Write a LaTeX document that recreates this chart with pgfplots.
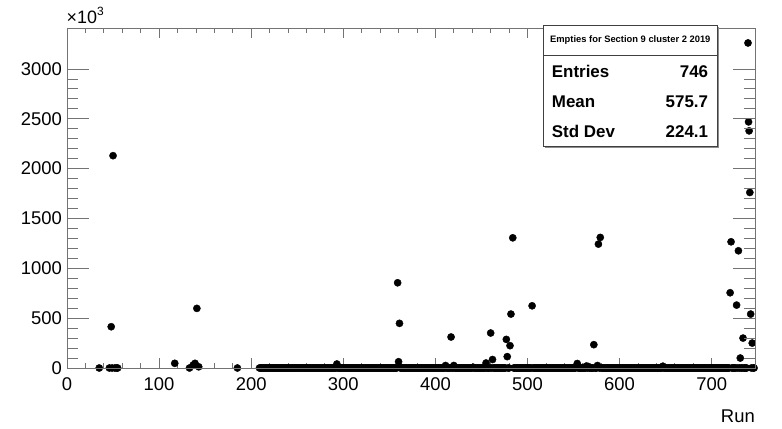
\documentclass[border=0pt]{standalone}
\usepackage{fontspec}
\setmainfont{Liberation Sans}
\usepackage{pgfplots}
\pgfplotsset{compat=1.18}
\definecolor{framegray}{gray}{0.45}
\begin{document}
\begin{tikzpicture}
\useasboundingbox (-67bp,-61bp) rectangle (715bp,368bp);
% x ticks, data
\begin{axis}[
  scale only axis, width=688bp, height=340bp,
  at={(0,0)}, anchor=south west,
  xmin=0, xmax=747, ymin=0, ymax=3411,
  clip=false,
  axis line style={framegray, line width=0.8bp},
  tick style={framegray, line width=0.8bp},
  xtick={0,100,...,700}, minor x tick num=4,
  ytick=\empty,
  major tick length=10bp, minor tick length=5bp,
  tick align=inside,
  xticklabel pos=bottom,
  /pgf/number format/assume math mode=true,
  /pgf/number format/1000 sep={},
  scaled ticks=false,
  xticklabel style={font=\fontsize{18.5}{20}\selectfont, inner sep=0pt, yshift=-9bp},
]
% dense band of runs with (near) zero values
\addplot[only marks, mark=*, mark size=3.6bp, black] coordinates {
(209,0)(210,0)(211,0)(212,0)(213,0)(214,0)(215,0)(216,0)(217,0)(218,0)
(219,0)(220,0)(221,0)(222,0)(223,0)(224,0)(225,0)(226,0)(227,0)(228,0)
(229,0)(230,0)(231,0)(232,0)(233,0)(234,0)(235,0)(236,0)(237,0)(238,0)
(239,0)(240,0)(241,0)(242,0)(243,0)(244,0)(245,0)(246,0)(247,0)(248,0)
(249,0)(250,0)(251,0)(252,0)(253,0)(254,0)(255,0)(256,0)(257,0)(258,0)
(259,0)(260,0)(261,0)(262,0)(263,0)(264,0)(265,0)(266,0)(267,0)(268,0)
(269,0)(270,0)(271,0)(272,0)(273,0)(274,0)(275,0)(276,0)(277,0)(278,0)
(279,0)(280,0)(281,0)(282,0)(283,0)(284,0)(285,0)(286,0)(287,0)(288,0)
(289,0)(290,0)(291,0)(292,0)(294,0)(295,0)(296,0)(297,0)(298,0)
(299,0)(300,0)(301,0)(302,0)(303,0)(304,0)(305,0)(306,0)(307,0)(308,0)
(309,0)(310,0)(311,0)(312,0)(313,0)(314,0)(315,0)(316,0)(317,0)(318,0)
(319,0)(320,0)(321,0)(322,0)(323,0)(324,0)(325,0)(326,0)(327,0)(328,0)
(329,0)(330,0)(331,0)(332,0)(333,0)(334,0)(335,0)(336,0)(337,0)(338,0)
(339,0)(340,0)(341,0)(342,0)(343,0)(344,0)(345,0)(346,0)(347,0)(348,0)
(349,0)(350,0)(351,0)(352,0)(353,0)(354,0)(355,0)(356,0)(357,0)(358,0)
(362,0)(363,0)(364,0)(365,0)(366,0)(367,0)(368,0)
(369,0)(370,0)(371,0)(372,0)(373,0)(374,0)(375,0)(376,0)(377,0)(378,0)
(379,0)(380,0)(381,0)(382,0)(383,0)(384,0)(385,0)(386,0)(387,0)(388,0)
(389,0)(390,0)(391,0)(392,0)(393,0)(394,0)(395,0)(396,0)(397,0)(398,0)
(399,0)(400,0)(401,0)(402,0)(403,0)(404,0)(405,0)(406,0)(407,0)(408,0)
(409,0)(410,0)(412,0)(413,0)(414,0)(415,0)(416,0)(418,0)
(419,0)(421,0)(422,0)(423,0)(424,0)(425,0)(426,0)(427,0)(428,0)
(429,0)(430,0)(431,0)(432,0)(433,0)(434,0)(435,0)(436,0)(437,0)(438,0)
(439,0)(440,0)(442,0)(443,0)(444,0)(445,0)(446,0)(447,0)(448,0)
(449,0)(450,0)(451,0)(452,0)(453,0)(454,0)(456,0)(457,0)(458,0)
(459,0)(461,0)(463,0)(464,0)(465,0)(466,0)(467,0)(468,0)
(469,0)(470,0)(471,0)(472,0)(473,0)(474,0)(475,0)(476,0)
(479,0)(480,0)(485,0)(486,0)(487,0)(488,0)
(489,0)(490,0)(491,0)(492,0)(493,0)(494,0)(495,0)(496,0)(497,0)(498,0)
(499,0)(500,0)(501,0)(502,0)(503,0)(504,0)(506,0)(507,0)(508,0)
(509,0)(510,0)(511,0)(512,0)(513,0)(514,0)(515,0)(516,0)(517,0)(518,0)
(519,0)(520,0)(521,0)(522,0)(523,0)(524,0)(525,0)(526,0)(527,0)(528,0)
(529,0)(530,0)(531,0)(532,0)(533,0)(534,0)(535,0)(536,0)(537,0)(538,0)
(539,0)(540,0)(541,0)(542,0)(543,0)(544,0)(545,0)(546,0)(547,0)(548,0)
(549,0)(550,0)(551,0)(552,0)(555,0)(556,0)(557,0)(558,0)
(559,0)(560,0)(561,0)(562,0)(563,0)(565,0)(567,0)(568,0)
(569,0)(570,0)(571,0)(573,0)(574,0)(575,0)(578,0)
(580,0)(581,0)(582,0)(583,0)(584,0)(585,0)(586,0)(587,0)(588,0)
(589,0)(590,0)(591,0)(592,0)(593,0)(594,0)(595,0)(596,0)(597,0)(598,0)
(599,0)(600,0)(601,0)(602,0)(603,0)(604,0)(605,0)(606,0)(607,0)(608,0)
(609,0)(610,0)(611,0)(612,0)(613,0)(614,0)(615,0)(616,0)(617,0)(618,0)
(619,0)(620,0)(621,0)(622,0)(623,0)(624,0)(625,0)(626,0)(627,0)(628,0)
(629,0)(630,0)(631,0)(632,0)(633,0)(634,0)(635,0)(636,0)(637,0)(638,0)
(639,0)(640,0)(641,0)(642,0)(643,0)(644,0)(645,0)(646,0)(648,0)
(649,0)(650,0)(651,0)(652,0)(653,0)(654,0)(655,0)(656,0)(657,0)(658,0)
(659,0)(660,0)(661,0)(662,0)(663,0)(664,0)(665,0)(666,0)(667,0)(668,0)
(669,0)(670,0)(671,0)(672,0)(673,0)(674,0)(675,0)(676,0)(677,0)(678,0)
(679,0)(680,0)(681,0)(682,0)(683,0)(684,0)(685,0)(686,0)(687,0)(688,0)
(689,0)(690,0)(691,0)(692,0)(693,0)(694,0)(695,0)(696,0)(697,0)(698,0)
(699,0)(700,0)(701,0)(702,0)(703,0)(704,0)(705,0)(706,0)(707,0)(708,0)
(709,0)(710,0)(711,0)(712,0)(713,0)(714,0)(715,0)(716,0)(717,0)(718,0)
(719,0)(722,0)(723,0)(724,0)(725,0)(726,0)(728,0)
(730,0)(732,0)(733,0)(735,0)(736,0)(737,0)(738,0)
(743,0)(745,0)
};
% remaining runs
\addplot[only marks, mark=*, mark size=3.6bp, black] coordinates {
(35,0)(46,0)(48,414)(49,0)(50,2130)(52,0)(54,0)(55,0)
(117,47)(133,0)(137,30)(139,47)(141,598)(143,12)(185,0)
(293,40)(359,855)(360,63)(361,448)
(411,25)(417,311)(420,25)(441,8)(455,50)(460,351)(462,85)
(477,287)(478,114)(481,224)(482,541)(484,1306)(505,624)
(554,45)(564,20)(566,15)(572,234)(576,25)(577,1243)(579,1310)
(647,18)(720,755)(721,1266)(727,631)(729,1176)(731,100)(734,300)
(739.4,3261)(740,2469)(740.6,2379)(741.4,1761)(742.3,541)(744,250)(746,0)
};
\end{axis}
% y ticks
\begin{axis}[
  scale only axis, width=688bp, height=340bp,
  at={(0,0)}, anchor=south west,
  xmin=0, xmax=747, ymin=0, ymax=3411,
  axis line style={framegray, line width=0.8bp},
  tick style={framegray, line width=0.8bp},
  xtick=\empty,
  ytick={0,500,...,3000}, minor y tick num=4,
  major tick length=22bp, minor tick length=11bp,
  tick align=inside,
  yticklabel pos=left,
  /pgf/number format/assume math mode=true,
  /pgf/number format/1000 sep={},
  scaled ticks=false,
  yticklabel style={font=\fontsize{18.5}{20}\selectfont, inner sep=0pt, xshift=-5bp},
]
\end{axis}
\node[anchor=base west, inner sep=0pt, font=\fontsize{18}{20}\selectfont] at (-0.5bp,344bp) {×10\raisebox{0.45em}{\fontsize{12}{13}\selectfont 3}};
\node[anchor=east, inner sep=0pt, font=\fontsize{18.5}{20}\selectfont] at (688bp,-48bp) {Run};
% stats box
\fill[black!45] (478bp,219.6bp) rectangle (652bp,340.6bp);
\draw[fill=white, draw=black!75, line width=0.8bp] (476.3bp,221.3bp) rectangle (650.3bp,342.3bp);
\draw[black!75, line width=0.8bp] (476.3bp,313bp) -- (650.3bp,313bp);
\node[inner sep=0pt, font=\bfseries\fontsize{9.4}{10}\selectfont] at (563.3bp,328bp) {Empties for Section 9 cluster 2 2019};
\node[anchor=west, inner sep=0pt, font=\bfseries\fontsize{17}{18}\selectfont] at (484.7bp,296.3bp) {Entries};
\node[anchor=west, inner sep=0pt, font=\bfseries\fontsize{17}{18}\selectfont] at (484.7bp,266.3bp) {Mean};
\node[anchor=west, inner sep=0pt, font=\bfseries\fontsize{17}{18}\selectfont] at (484.7bp,236.3bp) {Std Dev};
\node[anchor=east, inner sep=0pt, font=\bfseries\fontsize{17}{18}\selectfont] at (641.3bp,296.3bp) {746};
\node[anchor=east, inner sep=0pt, font=\bfseries\fontsize{17}{18}\selectfont] at (641.3bp,266.3bp) {575.7};
\node[anchor=east, inner sep=0pt, font=\bfseries\fontsize{17}{18}\selectfont] at (641.3bp,236.3bp) {224.1};
\end{tikzpicture}
\end{document}
